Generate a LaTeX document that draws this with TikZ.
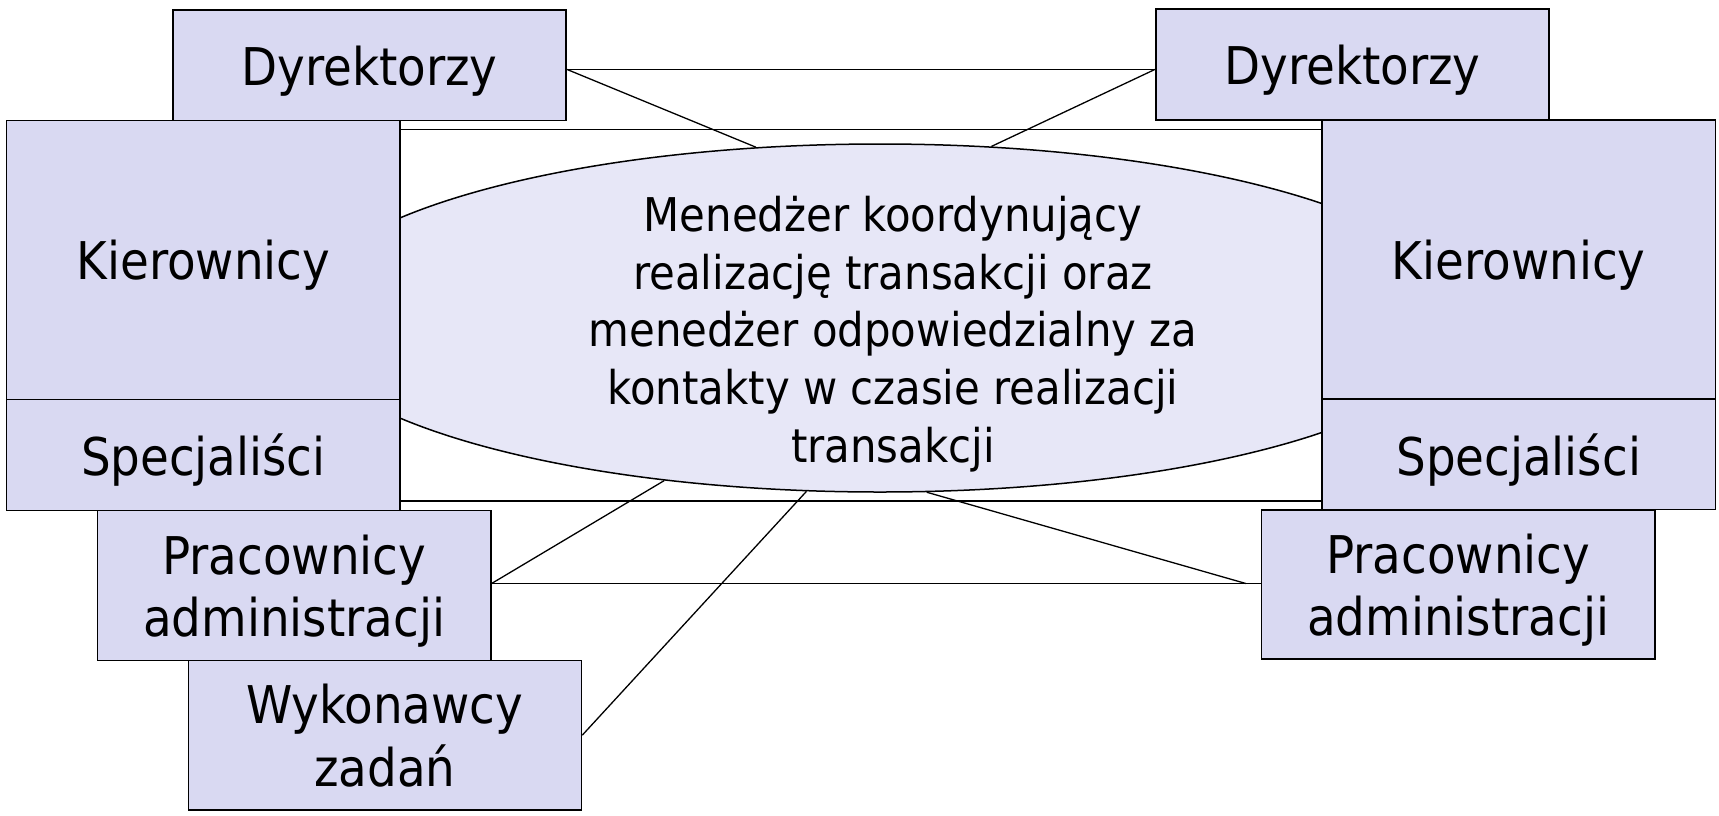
\documentclass[tikz,border=0pt]{standalone}
\usepackage{fontspec}
\setmainfont{DejaVu Sans Condensed}
\usetikzlibrary{shapes.geometric}
\definecolor{boxfill}{RGB}{217,217,242}
\definecolor{ellfill}{RGB}{231,231,247}
\begin{document}
\begin{tikzpicture}[x=1pt,y=-1pt,
  box/.style={draw=black, line width=1.5pt, fill=boxfill, inner sep=0pt, align=center,
    minimum width=393.3pt, text depth=0pt, font=\fontsize{52}{62.5}\selectfont},
  conn/.style={draw=black, line width=1.3pt},
  frame/.style={draw=black, line width=1.5pt, fill=white}]
\useasboundingbox (0,0) rectangle (1719,815);
% background frame
\node[frame, minimum width=1250pt, minimum height=371.7pt, inner sep=0pt] (bg) at (875,315.15) {};
% ellipse
\node[ellipse, draw=black, line width=1.5pt, fill=ellfill, minimum width=1173.4pt,
  minimum height=348pt, inner sep=0pt] (ell) at (880,318) {};
\node[align=center, inner sep=0pt, font=\fontsize{46.5}{57.8}\selectfont] (elltext) at (893,334)
  {Menedżer koordynujący\\realizację transakcji oraz\\menedżer odpowiedzialny za\\kontakty w czasie realizacji\\transakcji};
% boxes (placed before connectors by name, drawn later on top)
\node[box, minimum height=110.7pt] (dyrL) at (369.4,65.35) {Dyrektorzy};
\node[box, minimum height=111pt] (dyrR) at (1352.5,64.5) {Dyrektorzy};
\node[box, minimum height=149.6pt] (pracL) at (294.2,585.5) {Pracownicy\\administracji};
\node[box, minimum height=149pt] (pracR) at (1458.25,584.5) {Pracownicy\\administracji};
\node[box, minimum height=149.7pt] (wykL) at (384.9,735.15) {Wykonawcy\\zadań};
% connectors
\coordinate (dA) at ([yshift=-4pt]dyrL.east);
\coordinate (pA) at ([yshift=2pt]pracL.east);
\coordinate (pB) at ([xshift=-15pt]pA -| pracR.west);
\draw[conn] (dA) -- (dA -| dyrR.west);
\draw[conn] (dA) -- (ell.126.9);
\draw[conn] (dA -| dyrR.west) -- (ell.57.8);
\draw[conn] (pA) -- (pA -| pracR.west);
\draw[conn] (pA) -- (ell.217.5);
\draw[conn] (ell.285.7) -- (pB);
\draw[conn] (wykL.east) -- (ell.247.9);
% boxes on top
\node[box, minimum height=110.7pt] at (dyrL) {Dyrektorzy};
\node[box, minimum height=111pt] at (dyrR) {Dyrektorzy};
\node[box, minimum height=278.8pt] (kirL) at (203.35,260.1) {Kierownicy};
\node[box, minimum height=111pt] (specL) at (203.35,455) {Specjaliści};
\node[box, minimum height=279pt] (kirR) at (1518.65,259.5) {Kierownicy};
\node[box, minimum height=110.5pt] (specR) at (1518.65,454.25) {Specjaliści};
\node[box, minimum height=149.6pt] at (pracL) {Pracownicy\\administracji};
\node[box, minimum height=149pt] at (pracR) {Pracownicy\\administracji};
\node[box, minimum height=149.7pt] at (wykL) {Wykonawcy\\zadań};
\end{tikzpicture}
\end{document}
